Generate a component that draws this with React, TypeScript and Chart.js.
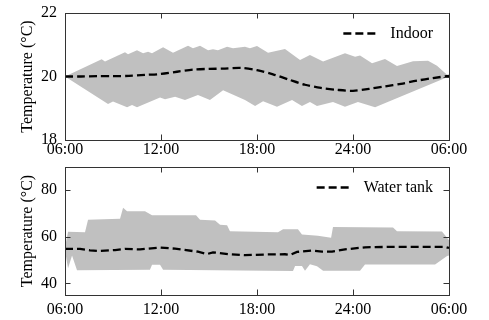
import React, { useEffect, useRef } from "react";
import { Chart, registerables } from "chart.js";

Chart.register(...registerables);

// Hours after 06:00 (0 = 06:00, 24 = 06:00 next day)
// ---- Indoor ----
const indoorMeanHours = [0, 1, 2, 3, 4, 5, 6, 7, 8, 9, 10, 11, 12, 13, 14, 15, 16, 17, 18, 19, 20, 21, 22, 23, 24];
const indoorMean = [20.0, 20.0, 20.01, 20.01, 20.02, 20.05, 20.08, 20.15, 20.22, 20.24, 20.25, 20.27, 20.2, 20.07, 19.9, 19.74, 19.64, 19.58, 19.55, 19.61, 19.69, 19.77, 19.87, 19.95, 20.02];
const indoorUpperHours = [0, 2.29, 2.5, 3.75, 3.94, 4.5, 4.88, 5.19, 5.44, 6.13, 6.75, 7.69, 8.0, 8.44, 8.94, 9.25, 9.56, 10.13, 10.5, 11.25, 11.56, 12.0, 12.69, 13.75, 14.69, 15.31, 16.13, 17.5, 18.13, 18.44, 19.19, 20.0, 20.75, 21.75, 22.69, 23.25, 24];
const indoorUpper = [20.0, 20.54, 20.47, 20.76, 20.7, 20.83, 20.73, 20.78, 20.73, 20.92, 20.75, 20.97, 20.89, 20.97, 20.83, 20.86, 20.83, 20.94, 20.89, 20.94, 20.89, 20.96, 20.75, 20.87, 20.52, 20.68, 20.47, 20.73, 20.62, 20.66, 20.42, 20.55, 20.33, 20.48, 20.5, 20.34, 20.0];
const indoorLowerHours = [0, 2.69, 3.0, 3.88, 4.19, 4.5, 5.94, 6.25, 6.88, 7.5, 8.31, 9.06, 9.88, 11.25, 11.88, 12.38, 13.25, 14.19, 14.81, 15.31, 15.75, 16.75, 17.5, 18.31, 19.38, 24];
const indoorLower = [20.0, 19.13, 19.21, 19.03, 19.1, 19.03, 19.34, 19.28, 19.36, 19.26, 19.42, 19.26, 19.57, 19.26, 19.07, 19.22, 19.05, 19.26, 19.07, 19.2, 19.07, 19.2, 19.05, 19.2, 19.03, 20.0];

// ---- Water tank ----
const tankMeanHours = [0, 0.94, 1.56, 2.19, 3.13, 3.75, 4.69, 5.94, 6.88, 8.31, 8.88, 9.25, 10.19, 11.25, 12.5, 13.75, 14.06, 14.5, 15.44, 16.06, 16.69, 17.5, 18.75, 20.63, 23.75, 24];
const tankMean = [54.8, 54.8, 54.2, 53.9, 54.3, 54.8, 54.6, 55.4, 54.9, 53.6, 52.6, 53.3, 52.6, 52.1, 52.4, 52.5, 52.2, 53.5, 54.1, 53.6, 53.6, 54.6, 55.5, 55.7, 55.7, 55.2];
const tankUpperHours = [0, 0.19, 1.25, 1.44, 3.44, 3.63, 3.88, 5.0, 5.44, 8.19, 8.44, 9.38, 9.69, 10.13, 10.31, 13.31, 13.63, 14.56, 14.81, 15.81, 16.63, 16.75, 20.5, 20.75, 23.56, 23.88, 24];
const tankUpper = [55.5, 62.2, 62.0, 67.3, 67.8, 72.5, 71.0, 71.0, 69.3, 69.3, 67.3, 67.0, 65.2, 65.0, 62.4, 62.0, 63.2, 63.2, 61.0, 60.5, 59.6, 64.2, 64.0, 62.4, 62.3, 59.6, 58.5];
const tankLowerHours = [0, 0.19, 0.44, 0.75, 5.31, 5.44, 5.94, 6.13, 14.25, 14.38, 14.81, 15.0, 15.31, 15.75, 16.13, 18.44, 18.75, 23.13, 23.88, 24];
const tankLower = [54.0, 46.5, 52.0, 45.6, 45.8, 48.0, 48.0, 45.8, 45.3, 47.5, 47.5, 45.4, 48.2, 47.4, 45.4, 45.4, 48.1, 48.1, 51.8, 52.0];

const FONT = "'Liberation Serif', 'Times New Roman', serif";
const BAND = "#c0c0c0";
const AXIS = "#333333";

const pts = (xs: number[], ys: number[]) => xs.map((x, i) => ({ x, y: ys[i] }));

const hourLabel = (v: number) => {
  let h = v + 6;
  if (h > 24) h -= 24;
  return String(h).padStart(2, "0") + ":00";
};

const frameAndTicks = {
  id: "frameAndTicks",
  afterDraw(chart: any) {
    const { ctx, chartArea } = chart;
    const { left, right, top, bottom } = chartArea;
    const xs = chart.scales.x;
    const ys = chart.scales.y;
    const xMajor = 6;
    const yMajor = chart.options.plugins.frameAndTicks.yMajor;
    ctx.save();
    ctx.strokeStyle = AXIS;
    ctx.lineWidth = 1;
    ctx.beginPath();
    for (const t of xs.ticks) {
      const p = Math.round(xs.getPixelForValue(t.value)) + 0.5;
      const major = Math.abs(t.value / xMajor - Math.round(t.value / xMajor)) < 1e-6;
      const len = major ? 5.5 : 3.5;
      ctx.moveTo(p, bottom);
      ctx.lineTo(p, bottom - len);
      ctx.moveTo(p, top);
      ctx.lineTo(p, top + len);
    }
    for (const t of ys.ticks) {
      const p = Math.round(ys.getPixelForValue(t.value)) + 0.5;
      const major = Math.abs(t.value / yMajor - Math.round(t.value / yMajor)) < 1e-6;
      const len = major ? 5.5 : 3.5;
      ctx.moveTo(left, p);
      ctx.lineTo(left + len, p);
      ctx.moveTo(right, p);
      ctx.lineTo(right - len, p);
    }
    ctx.stroke();
    ctx.strokeRect(Math.round(left) + 0.5, Math.round(top) + 0.5, Math.round(right - left), Math.round(bottom - top));
    // legend (dashed line sample + label of the mean dataset)
    const ds = chart.data.datasets[0];
    ctx.font = `16px ${FONT}`;
    ctx.fillStyle = "#000";
    ctx.textBaseline = "middle";
    ctx.textAlign = "right";
    const ty = top + 20.5;
    const tx = right - 16;
    ctx.fillText(ds.label, tx, ty);
    const tw = ctx.measureText(ds.label).width;
    const lx2 = tx - tw - 15;
    ctx.strokeStyle = "#000";
    ctx.lineWidth = ds.borderWidth;
    ctx.setLineDash(ds.borderDash);
    ctx.beginPath();
    ctx.moveTo(lx2 - 32, ty);
    ctx.lineTo(lx2, ty);
    ctx.stroke();
    ctx.restore();
  },
};

type PanelProps = {
  label: string;
  meanHours: number[];
  mean: number[];
  upperHours: number[];
  upper: number[];
  lowerHours: number[];
  lower: number[];
  yMin: number;
  yMax: number;
  yStep: number;
  yMajor: number;
  padTop: number;
  xHeight: number;
  xPad: number;
  tension: number;
};

function Panel(p: PanelProps) {
  const ref = useRef<HTMLCanvasElement | null>(null);
  useEffect(() => {
    if (!ref.current) return;
    const chart = new Chart(ref.current, {
      type: "line",
      data: {
        datasets: [
          {
            label: p.label,
            data: pts(p.meanHours, p.mean),
            borderColor: "#000",
            borderWidth: 2.3,
            borderDash: [8, 4],
            pointRadius: 0,
            fill: false,
            tension: p.tension,
          },
          {
            label: "max",
            data: pts(p.upperHours, p.upper),
            borderColor: "rgba(0,0,0,0)",
            backgroundColor: BAND,
            borderWidth: 0,
            pointRadius: 0,
            fill: 2,
            tension: 0,
          },
          {
            label: "min",
            data: pts(p.lowerHours, p.lower),
            borderColor: "rgba(0,0,0,0)",
            backgroundColor: BAND,
            borderWidth: 0,
            pointRadius: 0,
            fill: false,
            tension: 0,
          },
        ],
      },
      options: {
        responsive: false,
        animation: false,
        events: [],
        layout: { padding: { left: 0, right: 40, top: p.padTop, bottom: 0 } },
        plugins: {
          legend: { display: false },
          tooltip: { enabled: false },
          frameAndTicks: { yMajor: p.yMajor },
        } as any,
        scales: {
          x: {
            type: "linear",
            min: 0,
            max: 24,
            grid: { display: false, drawTicks: false },
            border: { display: false },
            afterFit: (s: any) => {
              s.height = p.xHeight;
              s.paddingLeft = 0;
              s.paddingRight = 0;
            },
            ticks: {
              stepSize: 1.5,
              autoSkip: false,
              maxRotation: 0,
              padding: p.xPad,
              color: "#000",
              font: { family: FONT, size: 16 },
              callback: (v: any) => {
                const n = Number(v);
                return Math.abs(n / 6 - Math.round(n / 6)) < 1e-6 ? hourLabel(n) : null;
              },
            },
          },
          y: {
            type: "linear",
            min: p.yMin,
            max: p.yMax,
            grid: { display: false, drawTicks: false },
            border: { display: false },
            afterFit: (s: any) => {
              s.width = 65;
              s.paddingTop = 0;
              s.paddingBottom = 0;
            },
            title: {
              display: true,
              text: "Temperature (°C)",
              color: "#000",
              font: { family: FONT, size: 16 },
              padding: { top: 18, bottom: 0 },
            },
            ticks: {
              stepSize: p.yStep,
              autoSkip: false,
              padding: 8,
              color: "#000",
              font: { family: FONT, size: 16 },
              callback: (v: any) => {
                const n = Number(v);
                return Math.abs(n / p.yMajor - Math.round(n / p.yMajor)) < 1e-6 ? String(n) : null;
              },
            },
          },
        },
      },
      plugins: [frameAndTicks],
    } as any);
    return () => chart.destroy();
  }, []);
  return <canvas ref={ref} width={489} height={160} style={{ display: "block", width: 489, height: 160 }} />;
}

export default function App() {
  return (
    <div style={{ position: "absolute", left: 0, top: 0, width: 489, height: 320, background: "#fff" }}>
      <Panel
        label="Indoor"
        meanHours={indoorMeanHours}
        mean={indoorMean}
        upperHours={indoorUpperHours}
        upper={indoorUpper}
        lowerHours={indoorLowerHours}
        lower={indoorLower}
        yMin={18}
        yMax={22}
        yStep={0.5}
        yMajor={2}
        padTop={13}
        xHeight={20}
        xPad={0}
        tension={0.3}
      />
      <Panel
        label="Water tank"
        meanHours={tankMeanHours}
        mean={tankMean}
        upperHours={tankUpperHours}
        upper={tankUpper}
        lowerHours={tankLowerHours}
        lower={tankLower}
        yMin={35}
        yMax={90}
        yStep={5}
        yMajor={20}
        padTop={7}
        xHeight={25}
        xPad={5.5}
        tension={0}
      />
    </div>
  );
}
